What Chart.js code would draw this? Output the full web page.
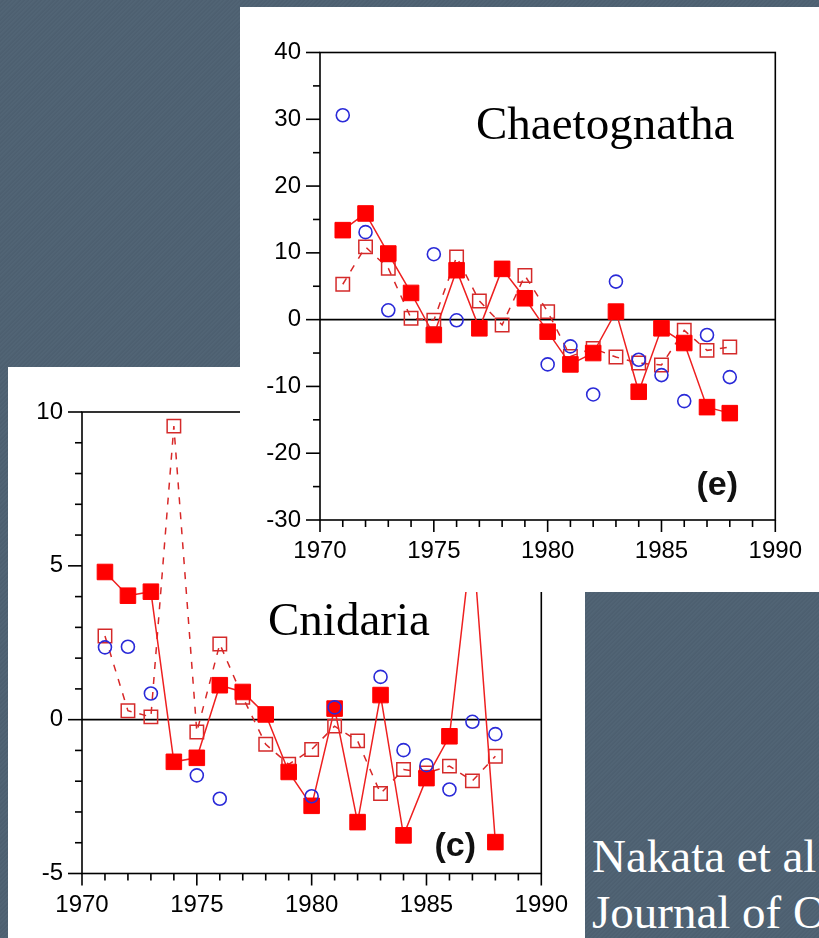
<!DOCTYPE html>
<html>
<head>
<meta charset="utf-8">
<script src="https://cdn.jsdelivr.net/npm/chart.js@4/dist/chart.umd.min.js"></script>
<style>
html, body { margin: 0; padding: 0; }
body {
  width: 819px; height: 938px; overflow: hidden; position: relative;
  background-color: #4e6172;
  background-image: repeating-linear-gradient(135deg, rgba(255,255,255,0.018) 0px, rgba(255,255,255,0.018) 1px, rgba(0,0,0,0.015) 2px, rgba(0,0,0,0.015) 3px);
}
.panel { position: absolute; background: #fff; }
#pc { left: 8px; top: 367px; width: 577px; height: 571px; z-index: 1; }
#pe { left: 240px; top: 7px; width: 579px; height: 585px; z-index: 2; }
.cite { position: absolute; left: 592px; color: #fff; font: 47px/47px "Liberation Serif", "Times New Roman", serif; white-space: nowrap; }
</style>
</head>
<body>
<div class="panel" id="pc"><canvas id="cnid" width="577" height="571"></canvas></div>
<div class="panel" id="pe"><canvas id="chaet" width="579" height="585"></canvas></div>
<div class="cite" style="top:833px">Nakata et al.</div>
<div class="cite" style="top:889px">Journal of Oceanography</div>
<script>
// years shared by both panels
const years = [1971, 1972, 1973, 1974, 1975, 1976, 1977, 1978, 1979, 1980, 1981, 1982, 1983, 1984, 1985, 1986, 1987, 1988];

// (e) Chaetognatha
const chaetFilled = [13.4, 15.9, 9.9, 4.0, -2.3, 7.4, -1.3, 7.6, 3.2, -1.8, -6.7, -5.0, 1.2, -10.8, -1.3, -3.5, -13.1, -14.0];
const chaetOpen   = [5.3, 10.9, 7.7, 0.2, -0.1, 9.4, 2.8, -0.8, 6.6, 1.2, -5.5, -4.3, -5.6, -6.5, -6.8, -1.6, -4.6, -4.1];
const chaetCircle = [30.6, 13.1, 1.4, null, 9.8, -0.1, null, null, null, -6.7, -4.0, -11.2, 5.7, -6.0, -8.3, -12.2, -2.3, -8.6];

// (c) Cnidaria
const cnidFilled = [4.8, 4.03, 4.16, -1.37, -1.24, 1.12, 0.9, 0.17, -1.7, -2.8, 0.36, -3.33, 0.8, -3.76, -1.9, -0.54, 6.0, -3.98];
const cnidOpen   = [2.72, 0.29, 0.09, 9.54, -0.4, 2.46, 0.73, -0.8, -1.45, -0.97, -0.21, -0.69, -2.4, -1.62, -1.73, -1.51, -1.99, -1.19];
const cnidCircle = [2.35, 2.37, 0.85, null, -1.81, -2.57, null, null, null, -2.49, 0.4, null, 1.39, -0.99, -1.48, -2.27, -0.07, -0.47];

const pts = arr => years.map((yr, i) => ({ x: yr, y: arr[i] }));

// frame, outward minor/major ticks, zero line and panel texts
const framePlugin = {
  id: 'frame',
  beforeDatasetsDraw(chart, args, o) {
    const { ctx, chartArea: a, scales: { x, y } } = chart;
    ctx.save();
    ctx.strokeStyle = '#000';
    ctx.lineWidth = 1.6;
    ctx.strokeRect(a.left, a.top, a.right - a.left, a.bottom - a.top);
    const seg = (x1, y1, x2, y2) => { ctx.beginPath(); ctx.moveTo(x1, y1); ctx.lineTo(x2, y2); ctx.stroke(); };
    const y0 = y.getPixelForValue(0);
    seg(a.left, y0, a.right, y0);
    for (let v = x.min; v <= x.max; v += 1) {
      const px = x.getPixelForValue(v);
      seg(px, a.bottom, px, a.bottom + (v % 5 === 0 ? 12 : 7));
    }
    for (let v = y.min; v <= y.max; v += o.yMinor) {
      const py = y.getPixelForValue(v);
      seg(a.left, py, a.left - (v % o.yMajor === 0 ? 14 : 7), py);
    }
    ctx.restore();
  },
  afterDatasetsDraw(chart, args, o) {
    const { ctx, scales: { x, y } } = chart;
    ctx.save();
    ctx.fillStyle = '#000';
    ctx.font = '47px "Liberation Serif", "Times New Roman", serif';
    ctx.textAlign = 'left';
    ctx.textBaseline = 'alphabetic';
    ctx.fillText(o.title, o.titleX, o.titleY);
    ctx.fillStyle = '#111';
    ctx.font = 'bold 34px "Liberation Sans", Arial, sans-serif';
    ctx.textAlign = 'center';
    ctx.textBaseline = 'middle';
    ctx.fillText(o.tag, x.getPixelForValue(o.tagAt[0]), y.getPixelForValue(o.tagAt[1]));
    ctx.restore();
  }
};

function makeChart(id, s) {
  return new Chart(document.getElementById(id), {
    type: 'line',
    data: {
      datasets: [
        { data: pts(s.circle), showLine: false, pointStyle: 'circle', pointRadius: 6.5,
          pointBorderColor: '#2a2ad8', pointBackgroundColor: 'rgba(0,0,0,0)', pointBorderWidth: 1.6 },
        { data: pts(s.filled), borderColor: '#ee2020', borderWidth: 1.5, pointStyle: 'rect', pointRadius: 11,
          pointBackgroundColor: '#ff0000', pointBorderColor: '#ff0000', pointBorderWidth: 1 },
        { data: pts(s.open), borderColor: '#d82828', borderWidth: 1.5, borderDash: [7, 8], pointStyle: 'rect', pointRadius: 9.5,
          pointBackgroundColor: 'rgba(0,0,0,0)', pointBorderColor: '#d42a2a', pointBorderWidth: 1.5 }
      ]
    },
    options: {
      responsive: false,
      animation: false,
      layout: { padding: s.pad },
      plugins: { legend: { display: false }, tooltip: { enabled: false }, frame: s.frame },
      scales: {
        x: {
          type: 'linear', min: 1970, max: 1990,
          grid: { display: false, drawTicks: false },
          border: { display: false },
          ticks: { stepSize: 5, padding: 17, maxRotation: 0, color: '#000',
                   font: { family: '"Liberation Sans", Arial, sans-serif', size: 24 },
                   callback: v => String(v) },
          afterFit: sc => { sc.height = 60; }
        },
        y: {
          min: s.yMin, max: s.yMax,
          grid: { display: false, drawTicks: false },
          border: { display: false },
          ticks: { stepSize: s.frame.yMajor, padding: 19, color: '#000',
                   font: { family: '"Liberation Sans", Arial, sans-serif', size: 24 },
                   callback: v => String(v) },
          afterFit: sc => { sc.width = s.yWidth; }
        }
      }
    },
    plugins: [framePlugin]
  });
}

makeChart('cnid', {
  filled: cnidFilled, open: cnidOpen, circle: cnidCircle,
  yMin: -5, yMax: 10, yWidth: 74,
  pad: { left: 0, top: 45, right: 41, bottom: 4.5 },
  frame: { yMinor: 1, yMajor: 5, title: 'Cnidaria', titleX: 260, titleY: 268, tag: '(c)', tagAt: [1986.25, -4.14] }
});

makeChart('chaet', {
  filled: chaetFilled, open: chaetOpen, circle: chaetCircle,
  yMin: -30, yMax: 40, yWidth: 80,
  pad: { left: 0, top: 45.5, right: 29, bottom: 12 },
  frame: { yMinor: 5, yMajor: 10, title: 'Chaetognatha', titleX: 236, titleY: 132, tag: '(e)', tagAt: [1987.45, -24.9] }
});
</script>
</body>
</html>
